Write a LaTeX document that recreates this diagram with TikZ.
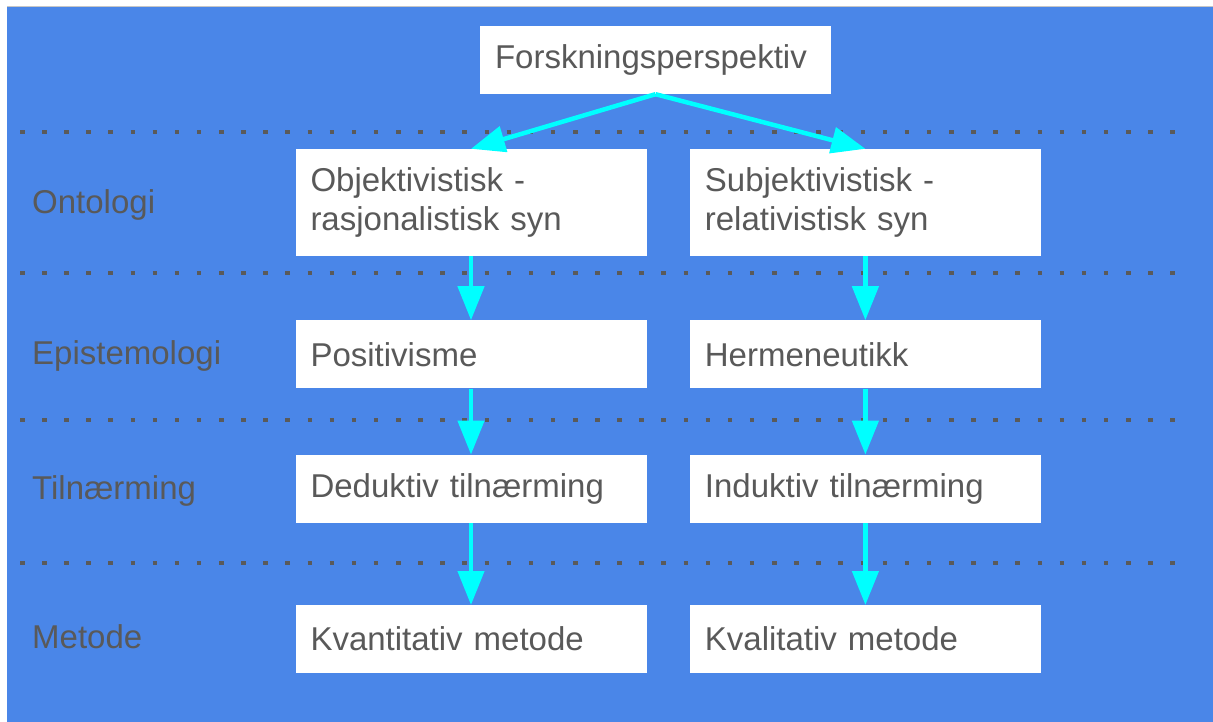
\documentclass[tikz,border=0pt]{standalone}
\usepackage{fontspec}
\setmainfont{Liberation Sans}
\usepackage{xcolor}
\usetikzlibrary{arrows.meta,positioning}

\definecolor{bgblue}{HTML}{4A86E8}
\definecolor{txtgray}{HTML}{595959}
\definecolor{dotgray}{HTML}{5A5A5A}
\definecolor{arrowcyan}{HTML}{00FFFF}

\begin{document}
\begin{tikzpicture}[x=1pt, y=-1pt,
    box/.style={rectangle, fill=white, text=txtgray, text width=321pt, inner xsep=15pt, inner ysep=0pt, align=left, minimum height=68pt, font=\fontsize{33}{39}\selectfont},
    tallbox/.style={box, minimum height=107pt},
    level/.style={anchor=base west, inner sep=0pt, text=txtgray, font=\fontsize{33}{39}\selectfont},
    arrow/.style={-{Triangle[length=34pt, width=26pt]}, draw=arrowcyan, line width=4.5pt},
    sep/.style={draw=dotgray, line width=4.5pt, dash pattern=on 4.5pt off 17.62pt}
]
    % Background
    \useasboundingbox (0,0) rectangle (1213,722);
    \fill[white] (0,0) rectangle (1213,722);
    \fill[bgblue] (7,7) rectangle (1213,722);
    \draw[gray!45, line width=1pt] (7,7) -- (1213,7);

    % Level separators
    \foreach \y in {132,273,420,563}
        \draw[sep] (20,\y) -- (1177,\y);

    % Level labels
    \node[level] (ontologi) at (32,214) {Ontologi};
    \node[level] (epistemologi) at (32,364) {Epistemologi};
    \node[level] (tilnaerming) at (32,499) {Tilnærming};
    \node[level] (metode) at (32,648) {Metode};

    % Top
    \node[box] (perspektiv) at (655.5,60) {Forskningsperspektiv};

    % Left column
    \node[tallbox] (objektiv) at (471,202.5) {Objektivistisk -\\rasjonalistisk syn};
    \node[box, below=64pt of objektiv] (positivisme) {Positivisme};
    \node[box, below=66pt of positivisme] (deduktiv) {Deduktiv tilnærming};
    \node[box, below=82pt of deduktiv] (kvantitativ) {Kvantitativ metode};

    % Right column
    \node[tallbox, right=43pt of objektiv] (subjektiv) {Subjektivistisk -\\relativistisk syn};
    \node[box, right=43pt of positivisme] (hermeneutikk) {Hermeneutikk};
    \node[box, right=43pt of deduktiv] (induktiv) {Induktiv tilnærming};
    \node[box, right=43pt of kvantitativ] (kvalitativ) {Kvalitativ metode};

    % Arrows
    \draw[arrow] (perspektiv.south) -- (objektiv.north);
    \draw[arrow] (perspektiv.south) -- (subjektiv.north);
    \draw[arrow] (objektiv) -- (positivisme);
    \draw[arrow] (positivisme) -- (deduktiv);
    \draw[arrow] (deduktiv) -- (kvantitativ);
    \draw[arrow] (subjektiv) -- (hermeneutikk);
    \draw[arrow] (hermeneutikk) -- (induktiv);
    \draw[arrow] (induktiv) -- (kvalitativ);

\end{tikzpicture}
\end{document}
